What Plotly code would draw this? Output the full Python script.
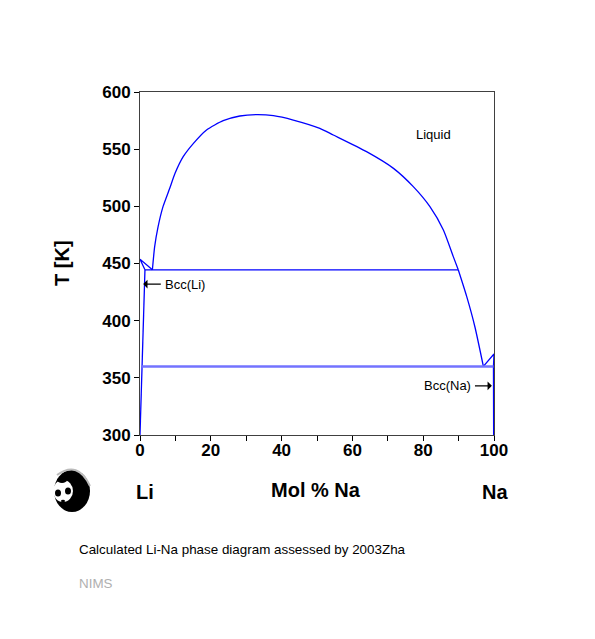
import plotly.graph_objects as go

# ---- data (mol % Na, T in K) ----
bccli_solvus_x = [0.0, 0.6, 1.4]
bccli_solvus_t = [300, 360, 444.5]

li_melt_x = [1.4, 0.0, 3.5]
li_melt_t = [444.5, 453.7, 444.5]

monotectic_x = [1.4, 89.9]
monotectic_t = [444.5, 444.5]

dome_x = [3.5, 4.14, 5.1, 6.5, 8.4, 9.9, 12.2, 15.1, 18.8, 23.5, 28.2, 33.0, 37.7, 43.3, 50.8,
          54.6, 64.0, 71.6, 77.2, 81.9, 85.7, 88.5, 89.9]
dome_t = [444.5, 464.7, 482.0, 499.7, 515.8, 528.9, 543.4, 555.1, 566.8, 574.9, 579.0, 580.2, 579.3,
          575.5, 568.2, 562.4, 547.8, 533.2, 517.2, 499.7, 479.3, 456.0, 444.5]

na_liquidus_x = [89.9, 92.3, 94.6, 97.0]
na_liquidus_t = [444.5, 421.0, 394.7, 360.0]

eutectic_x = [0.6, 99.85]
eutectic_t = [360, 360]

na_side_x = [97.0, 100.0, 99.85, 99.9]
na_side_t = [360, 370.9, 360, 300]

xticks = [0, 20, 40, 60, 80, 100]
yticks = [300, 350, 400, 450, 500, 550, 600]

BLUE = "#0000ff"
FONT = "Liberation Sans, Arial, sans-serif"

fig = go.Figure()
for xs, ts, shp in [(bccli_solvus_x, bccli_solvus_t, "linear"), (li_melt_x, li_melt_t, "linear"),
                    (monotectic_x, monotectic_t, "linear"), (dome_x, dome_t, "spline"),
                    (na_liquidus_x, na_liquidus_t, "spline"), (na_side_x, na_side_t, "linear")]:
    fig.add_trace(go.Scatter(x=xs, y=ts, mode="lines",
                             line=dict(color=BLUE, width=1.3, shape=shp, smoothing=0.6),
                             showlegend=False, hoverinfo="skip"))
fig.add_trace(go.Scatter(x=eutectic_x, y=eutectic_t, mode="lines",
                         line=dict(color="#7373ff", width=2.5), showlegend=False, hoverinfo="skip"))

W, H = 595, 639
OFF = 8  # page body margin
L, R, T, B = 140, 494, 92, 435


def px(xp):
    return (xp - L) / (R - L)


def py(yp):
    return (B - yp) / (B - T)


def txt(xp, yp, text, size, color="black", xanchor="center", angle=0):
    return dict(x=px(xp), y=py(yp), xref="paper", yref="paper", text=text, showarrow=False,
                xanchor=xanchor, yanchor="middle", textangle=angle,
                font=dict(size=size, color=color, family=FONT))


annotations = [
    dict(x=82.8, y=562.4, xref="x", yref="y", text="Liquid", showarrow=False,
         xanchor="center", yanchor="middle", font=dict(size=13, color="black", family=FONT)),
    dict(x=0.9, y=432, xref="x", yref="y", ax=6.3, ay=432, axref="x", ayref="y", text="",
         showarrow=True, arrowhead=1, arrowsize=1.2, arrowwidth=1.2, arrowcolor="black"),
    dict(x=6.6, y=432, xref="x", yref="y", text="Bcc(Li)", showarrow=False, xanchor="left",
         yanchor="middle", font=dict(size=13, color="black", family=FONT)),
    dict(x=99.4, y=343, xref="x", yref="y", ax=94.2, ay=343, axref="x", ayref="y", text="",
         showarrow=True, arrowhead=1, arrowsize=1.2, arrowwidth=1.2, arrowcolor="black"),
    dict(x=94.0, y=343, xref="x", yref="y", text="Bcc(Na)", showarrow=False, xanchor="right",
         yanchor="middle", font=dict(size=13, color="black", family=FONT)),
    txt(316, 490, "<b>Mol % Na</b>", 20),
    txt(145, 492, "<b>Li</b>", 20),
    txt(495, 492, "<b>Na</b>", 20),
    txt(62, 263, "<b>T [K]</b>", 20, angle=-90),
    txt(77, 549, "Calculated Li-Na phase diagram assessed by 2003Zha", 13.4, xanchor="left"),
    txt(77, 583, "NIMS", 13.4, color="#b0b0b0", xanchor="left"),
]

# simple panda logo drawn with shapes
shapes = []


def ell(cx, cy, rx, ry, color):
    shapes.append(dict(type="circle", xref="paper", yref="paper",
                       x0=px(cx - rx), x1=px(cx + rx), y0=py(cy + ry), y1=py(cy - ry),
                       fillcolor=color, line=dict(width=0)))


ell(72, 491, 18, 21, "black")
ell(63, 491, 10, 11, "white")
ell(62, 480, 5, 3, "black")
ell(58, 493, 3, 3.5, "black")
ell(68, 491, 3, 3.5, "black")
ell(63, 501, 2, 1.2, "black")
shapes.append(dict(type="path", xref="paper", yref="paper",
                   path=f"M {px(57)},{py(475)} Q {px(78)},{py(460)} {px(90)},{py(486)}",
                   line=dict(color="#bbbbbb", width=2)))

fig.update_layout(
    width=W, height=H,
    margin=dict(l=L - OFF, r=W - R + OFF, t=T - OFF, b=H - B + OFF),
    paper_bgcolor="white", plot_bgcolor="white",
    showlegend=False,
    annotations=annotations,
    shapes=shapes,
    xaxis=dict(range=[0, 100], tickvals=xticks, ticktext=[str(v) for v in xticks],
               ticks="outside", ticklen=0, showgrid=False, zeroline=False,
               showline=True, linecolor="#404040", linewidth=1, mirror=True,
               tickfont=dict(size=17, color="black", family=FONT, weight="bold"),
               minor=dict(dtick=10, tick0=0, ticks="outside", ticklen=5, tickcolor="black")),
    yaxis=dict(range=[300, 600], tickvals=yticks, ticks="outside", ticklen=5, tickcolor="black",
               showgrid=False, zeroline=False,
               showline=True, linecolor="#404040", linewidth=1, mirror=True,
               tickfont=dict(size=17, color="black", family=FONT, weight="bold")),
)

fig.write_html("out.html")
